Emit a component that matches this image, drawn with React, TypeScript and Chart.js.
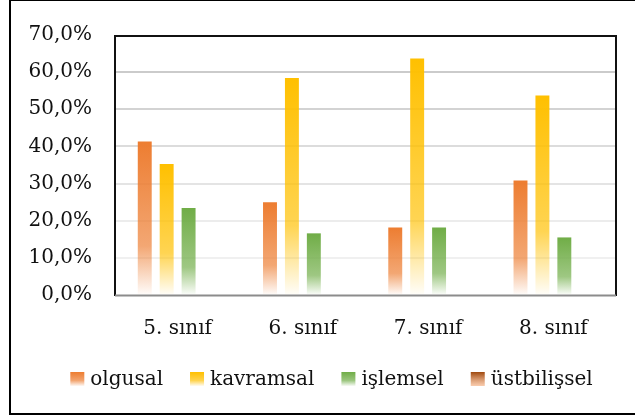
import React, { useEffect, useRef } from 'react';
import { Chart, registerables } from 'chart.js';

Chart.register(...registerables);

const categories = ['5. sınıf', '6. sınıf', '7. sınıf', '8. sınıf'];
const seriesNames = ['olgusal', 'kavramsal', 'işlemsel', 'üstbilişsel'];
const olgusal = [41.3, 25.0, 18.2, 30.8];
const kavramsal = [35.3, 58.4, 63.7, 53.7];
const islemsel = [23.4, 16.6, 18.2, 15.5];
const ustbilissel = [0, 0, 0, 0];
const yTickValues = [0, 10, 20, 30, 40, 50, 60, 70];

const seriesColors: number[][] = [
  [237, 125, 49],
  [255, 192, 0],
  [112, 173, 71],
  [158, 72, 14],
];

const FONT = '"DejaVu Serif", serif';
const rgba = (c: number[], a: number) => `rgba(${c[0]},${c[1]},${c[2]},${a})`;

function barGradient(c: number[]) {
  return (ctx: any) => {
    const chart = ctx.chart;
    const y = chart.scales && chart.scales.y;
    if (ctx.type !== 'data' || !y || !chart.chartArea) return rgba(c, 1);
    const top = y.getPixelForValue(ctx.raw);
    const bottom = y.getPixelForValue(0);
    if (!isFinite(top) || bottom - top < 1) return rgba(c, 1);
    const g = chart.ctx.createLinearGradient(0, top, 0, bottom);
    g.addColorStop(0, rgba(c, 1));
    g.addColorStop(0.68, rgba(c, 0.68));
    g.addColorStop(1, rgba(c, 0.02));
    return g;
  };
}

const framePlugin = {
  id: 'frame',
  beforeDraw(chart: any) {
    const ctx = chart.ctx;
    ctx.save();
    ctx.fillStyle = '#fff';
    ctx.fillRect(0, 0, chart.width, chart.height);
    ctx.restore();
  },
  afterDraw(chart: any) {
    const ctx = chart.ctx;
    const a = chart.chartArea;
    ctx.save();
    // outer frame
    ctx.strokeStyle = '#000';
    ctx.lineWidth = 2;
    ctx.strokeRect(10, 0, 700, 414);
    // plot area frame
    ctx.strokeStyle = '#111';
    ctx.beginPath();
    ctx.moveTo(a.left, a.bottom + 1);
    ctx.lineTo(a.left, a.top + 1);
    ctx.lineTo(a.right, a.top + 1);
    ctx.lineTo(a.right, a.bottom + 1);
    ctx.stroke();
    ctx.strokeStyle = '#8c8c8c';
    ctx.beginPath();
    ctx.moveTo(a.left, a.bottom + 0.5);
    ctx.lineTo(a.right, a.bottom + 0.5);
    ctx.stroke();

    // legend
    ctx.font = '20px ' + FONT;
    ctx.textBaseline = 'middle';
    ctx.textAlign = 'left';
    const box = 14;
    const gapText = 6;
    const gapItem = 27;
    const widths = seriesNames.map((n) => ctx.measureText(n).width);
    const total = widths.reduce((s, w) => s + box + gapText + w, 0) + gapItem * (seriesNames.length - 1);
    let x = 331.5 - total / 2;
    const cy = 379;
    seriesNames.forEach((n, i) => {
      const c = seriesColors[i];
      const g = ctx.createLinearGradient(0, cy - 7, 0, cy + 7);
      if (i === 3) {
        g.addColorStop(0, rgba(c, 1));
        g.addColorStop(1, 'rgba(245,170,120,0.6)');
      } else {
        g.addColorStop(0, rgba(c, 1));
        g.addColorStop(0.6, rgba(c, 0.7));
        g.addColorStop(1, rgba(c, 0.05));
      }
      ctx.fillStyle = g;
      ctx.fillRect(x, cy - 7, box, box);
      ctx.fillStyle = '#111';
      ctx.fillText(n, x + box + gapText, cy + 1);
      x += box + gapText + widths[i] + gapItem;
    });
    ctx.restore();
  },
};

const gridShade: Record<number, string> = {
  0: 'rgba(0,0,0,0)',
  10: '#f0f0f0',
  20: '#ececec',
  30: '#e4e4e4',
  40: '#dcdcdc',
  50: '#d3d3d3',
  60: '#cbcbcb',
  70: 'rgba(0,0,0,0)',
};

export default function App() {
  const ref = useRef<HTMLCanvasElement | null>(null);

  useEffect(() => {
    if (!ref.current) return;
    const data = [olgusal, kavramsal, islemsel, ustbilissel];
    const chart = new Chart(ref.current, {
      type: 'bar',
      data: {
        labels: categories,
        datasets: seriesNames.map((name, i) => ({
          label: name,
          data: data[i],
          backgroundColor: barGradient(seriesColors[i]),
          borderWidth: 0,
          categoryPercentage: 0.7,
          barPercentage: 0.636,
        })),
      },
      options: {
        responsive: false,
        animation: false,
        layout: { padding: { left: 0, top: 29, right: 19, bottom: 0 } },
        plugins: {
          legend: { display: false },
          tooltip: { enabled: false },
          title: { display: false },
        },
        scales: {
          x: {
            grid: { display: false, drawTicks: false },
            border: { display: false },
            ticks: {
              font: { family: FONT, size: 20 },
              color: '#111',
              padding: 22,
            },
            afterFit: (s: any) => {
              s.height = 122;
            },
          },
          y: {
            min: 0,
            max: 70,
            afterBuildTicks: (s: any) => {
              s.ticks = yTickValues.map((v) => ({ value: v }));
            },
            grid: {
              drawTicks: false,
              lineWidth: 2,
              color: (ctx: any) => gridShade[ctx.tick ? ctx.tick.value : 0] || '#e0e0e0',
            },
            border: { display: false },
            ticks: {
              font: { family: FONT, size: 20 },
              color: '#111',
              padding: 23,
              callback: (v: any) => Number(v).toFixed(1).replace('.', ',') + '%',
            },
            afterFit: (s: any) => {
              s.width = 115;
            },
          },
        },
      },
      plugins: [framePlugin],
    });
    return () => chart.destroy();
  }, []);

  return (
    <div style={{ position: 'absolute', left: 0, top: 0, width: 635, height: 417, background: '#fff' }}>
      <canvas ref={ref} width={635} height={417} style={{ display: 'block' }} />
    </div>
  );
}
